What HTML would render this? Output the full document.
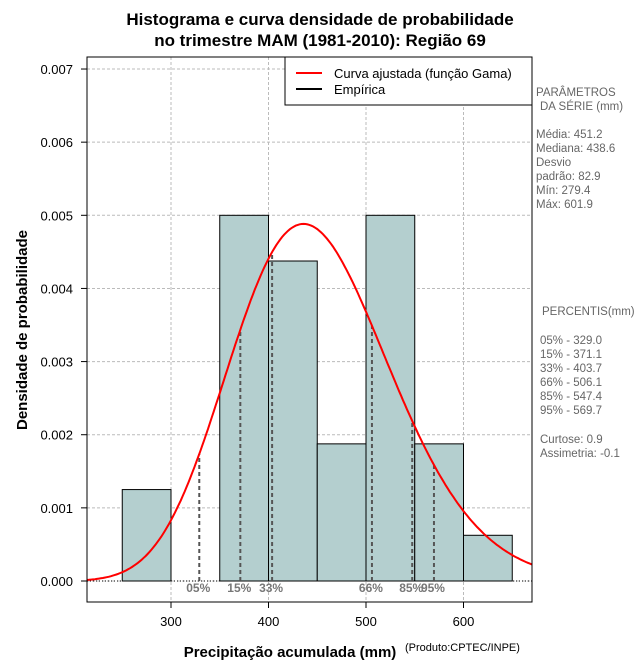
<!DOCTYPE html>
<html><head><meta charset="utf-8"><style>
body{margin:0;background:#fff}
svg text{font-family:"Liberation Sans",sans-serif}
</style></head><body>
<svg width="640" height="660" xmlns="http://www.w3.org/2000/svg">
<g id="grid"></g>
<g id="bars"></g>
<g id="pct"></g>
<path id="curve" fill="none" stroke="#ff0000" stroke-width="2"/>
<rect x="87" y="57" width="445" height="545" fill="none" stroke="#000"/>
<g id="axes"></g>
<text x="320" y="25" text-anchor="middle" font-size="17" font-weight="bold">Histograma e curva densidade de probabilidade</text>
<text x="320" y="46" text-anchor="middle" font-size="17" font-weight="bold">no trimestre MAM (1981-2010): Região 69</text>
<text x="290" y="657" text-anchor="middle" font-size="15" font-weight="bold">Precipitação acumulada (mm)</text>
<text x="405" y="651" font-size="11">(Produto:CPTEC/INPE)</text>
<text transform="translate(27,330) rotate(-90)" text-anchor="middle" font-size="15" font-weight="bold">Densidade de probabilidade</text>
<g>
<rect x="285" y="57" width="247" height="48" fill="#fff" stroke="#000"/>
<line x1="296" y1="73" x2="322" y2="73" stroke="#f00" stroke-width="2"/>
<text x="334" y="78" font-size="13">Curva ajustada (função Gama)</text>
<line x1="296" y1="89" x2="322" y2="89" stroke="#000" stroke-width="2"/>
<text x="334" y="94" font-size="13">Empírica</text>
</g>
<g font-size="11.5" fill="#666">
<text x="536" y="96">PARÂMETROS</text>
<text x="540" y="110">DA SÉRIE (mm)</text>
<text x="536" y="138">Média:  451.2</text>
<text x="536" y="152">Mediana:  438.6</text>
<text x="536" y="166">Desvio</text>
<text x="536" y="180">padrão:  82.9</text>
<text x="536" y="194">Mín:  279.4</text>
<text x="536" y="208">Máx:  601.9</text>
<text x="542" y="315">PERCENTIS(mm)</text>
<text x="540" y="344">05% -  329.0</text>
<text x="540" y="358">15% -  371.1</text>
<text x="540" y="372">33% -  403.7</text>
<text x="540" y="386">66% -  506.1</text>
<text x="540" y="400">85% -  547.4</text>
<text x="540" y="414">95% -  569.7</text>
<text x="540" y="443">Curtose:  0.9</text>
<text x="540" y="457">Assimetria:  -0.1</text>
</g>
</svg>
<script>
const binStarts=[250,300,350,400,450,500,550,600];
const binWidth=50;
const densities=[0.00125,0,0.005,0.004375,0.001875,0.005,0.001875,0.000625];
const xTicks=[300,400,500,600];
const yTicks=[0,0.001,0.002,0.003,0.004,0.005,0.006,0.007];
const pctLabels=["05%","15%","33%","66%","85%","95%"];
const pctValues=[329.0,371.1,403.7,506.1,547.4,569.7];
const gammaShape=[29.62];
const gammaScale=[15.23];
const NS="http://www.w3.org/2000/svg";
const X=v=>171+(v-300)*0.975;
const Y=v=>581-v*73140;
function mk(tag,attrs,parent){const e=document.createElementNS(NS,tag);for(const k in attrs)e.setAttribute(k,attrs[k]);parent.appendChild(e);return e;}
function lgamma(z){const c=[76.18009172947146,-86.50532032941677,24.01409824083091,-1.231739572450155,0.1208650973866179e-2,-0.5395239384953e-5];let x=z,y=z,t=x+5.5;t-=(x+0.5)*Math.log(t);let s=1.000000000190015;for(const ci of c)s+=ci/++y;return -t+Math.log(2.5066282746310005*s/x);}
function pdf(x){const k=gammaShape[0],th=gammaScale[0];return Math.exp((k-1)*Math.log(x)-x/th-lgamma(k)-k*Math.log(th));}
const grid=document.getElementById('grid');
xTicks.forEach(v=>{const l=mk('line',{x1:X(v),x2:X(v),y1:57,y2:602,stroke:'#bbb','stroke-dasharray':'3,2'},grid);

});
yTicks.forEach(v=>{const l=mk('line',{x1:87,x2:532,y1:Y(v),y2:Y(v),stroke:'#bbb','stroke-dasharray':'3,2'},grid);

});
const bars=document.getElementById('bars');
mk('line',{x1:87,x2:532,y1:Y(0),y2:Y(0),stroke:'#000','stroke-dasharray':'1,2'},bars);
binStarts.forEach((b,i)=>{if(densities[i]<=0)return;const r=mk('rect',{x:X(b),y:Y(densities[i]),width:X(b+binWidth)-X(b),height:Y(0)-Y(densities[i]),fill:'#b4cfcf',stroke:'#000','stroke-width':1},bars);

});
let d='';for(let x=214;x<=680;x+=2){const px=X(x);if(px<87||px>532)continue;d+=(d?'L':'M')+px.toFixed(1)+','+Y(pdf(x)).toFixed(1);}
document.getElementById('curve').setAttribute('d',d);
const pct=document.getElementById('pct');
pctValues.forEach((v,i)=>{const l=mk('line',{x1:X(v),x2:X(v),y1:Y(0),y2:Y(pdf(v)),stroke:'#555','stroke-width':2,'stroke-dasharray':'4,3'},pct);


const t=mk('text',{x:X(v)-1,y:592,'text-anchor':'middle','font-size':12,'font-weight':'bold',fill:'#777','font-family':'Liberation Serif,serif'},pct);t.textContent=pctLabels[i];

});
const axes=document.getElementById('axes');
xTicks.forEach(v=>{mk('line',{x1:X(v),x2:X(v),y1:602,y2:608,stroke:'#000'},axes);const t=mk('text',{x:X(v),y:626,'text-anchor':'middle','font-size':13},axes);t.textContent=v;

});
yTicks.forEach(v=>{mk('line',{x1:81,x2:87,y1:Y(v),y2:Y(v),stroke:'#000'},axes);const t=mk('text',{x:73,y:Y(v)+5,'text-anchor':'end','font-size':13},axes);t.textContent=v.toFixed(3);

});
</script>
</body></html>
